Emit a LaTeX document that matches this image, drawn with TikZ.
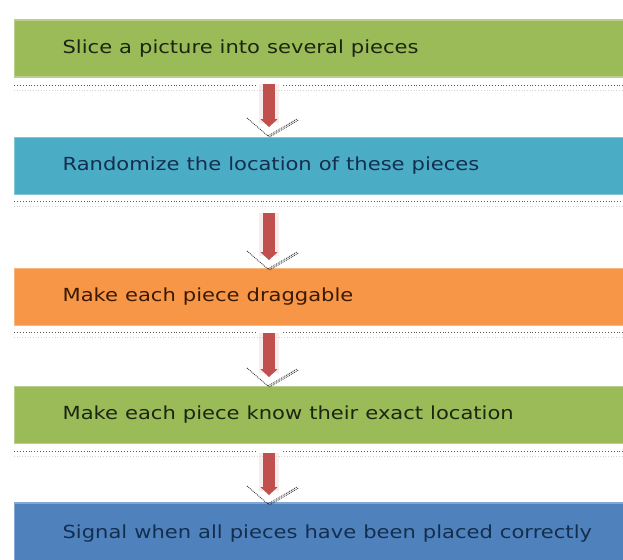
\documentclass[tikz,border=0pt]{standalone}
\usepackage{fontspec}
\setmainfont{DejaVu Sans}
\usetikzlibrary{arrows.meta}
\definecolor{stepgreen}{HTML}{9BBB59}
\definecolor{stepteal}{HTML}{4BACC6}
\definecolor{steporange}{HTML}{F79646}
\definecolor{stepblue}{HTML}{4F81BD}
\definecolor{flowred}{HTML}{C0504D}
\definecolor{inkgreen}{HTML}{1B2610}
\definecolor{inknavy}{HTML}{142F4E}
\definecolor{inkbrown}{HTML}{3A1A05}
\newcommand{\steptext}[1]{\scalebox{1.17}[1]{#1}}
\tikzset{
  stepbox/.style={anchor=west, minimum height=57pt, text width=560pt,
    align=left, inner xsep=48pt, inner ysep=0pt,
    font=\fontsize{18}{21}\selectfont, line width=1.2pt},
  flowarrow/.style={draw=flowred, line width=12pt,
    -{Triangle[width=17pt,length=8pt]}},
  halo/.style={draw=flowred!25, line width=20pt, opacity=0.45},
  sepline/.style={draw=black!65, line width=0.9pt, dotted},
  sepfaint/.style={draw=black!18, line width=0.7pt, dotted},
  tickline/.style={draw=black!80, line width=0.9pt, densely dotted},
}
\begin{document}
\begin{tikzpicture}[x=1pt,y=-1pt]
\useasboundingbox (0,0) rectangle (623,559);
\clip (0,0) rectangle (623,559);

% process steps
\node[stepbox, fill=stepgreen, draw=stepgreen!70!white, text=inkgreen]
  (s1) at (14,48.5) {\steptext{Slice a picture into several pieces}};
\node[stepbox, fill=stepteal, draw=stepteal!70!white, text=inknavy]
  (s2) at (14,166) {\steptext{Randomize the location of these pieces}};
\node[stepbox, fill=steporange, draw=steporange!70!white, text=inkbrown]
  (s3) at (14,297) {\steptext{Make each piece draggable}};
\node[stepbox, fill=stepgreen, draw=stepgreen!70!white, text=inkgreen]
  (s4) at (14,415) {\steptext{Make each piece know their exact location}};
\node[stepbox, fill=stepblue, draw=stepblue!70!white, text=inknavy, minimum height=62pt]
  (s5) at (14,534) {\steptext{Signal when all pieces have been placed correctly}};

% dotted separators under each step
\foreach \y/\gap in {85/1,201/0,332/1,451/1}{
  \ifnum\gap=1
    \draw[sepline] (14,\y) -- (257,\y);
    \draw[sepline] (283,\y) -- (623,\y);
  \else
    \draw[sepline] (14,\y) -- (623,\y);
  \fi
  \draw[sepfaint] (14,\y+5) -- (623,\y+5);
}

% arrow end points
\coordinate (a1s) at (269,84);  \coordinate (a1e) at (269,127);
\coordinate (a2s) at (269,213); \coordinate (a2e) at (269,260);
\coordinate (a3s) at (269,333); \coordinate (a3e) at (269,377);
\coordinate (a4s) at (269,453); \coordinate (a4e) at (269,495);

\foreach \i in {1,2,3,4}{
  \draw[halo] (a\i s) -- ([yshift=4pt]a\i e);
  \draw[flowarrow] (a\i s) -- (a\i e);
  % check mark below each arrow (shifts are in page orientation: up is positive)
  \coordinate (v\i l) at ([xshift=-22pt,yshift=9pt]a\i e);
  \coordinate (v\i b) at ([xshift=-1pt,yshift=-9pt]a\i e);
  \coordinate (v\i r) at ([xshift=28pt,yshift=8pt]a\i e);
  \draw[tickline] (v\i l) -- (v\i b);
  \draw[tickline] (v\i b) -- (v\i r);
  \draw[tickline] ([xshift=1.5pt,yshift=-1pt]v\i b) -- ([xshift=1.5pt,yshift=-1pt]v\i r);
}
\end{tikzpicture}
\end{document}
